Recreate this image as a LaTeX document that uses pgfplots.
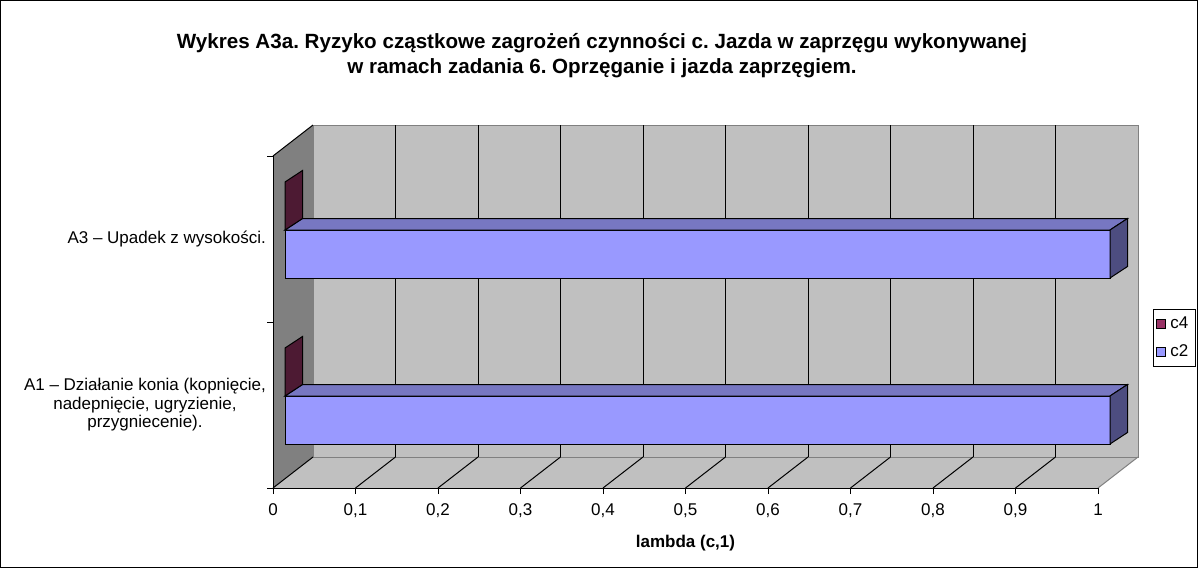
\documentclass[border=0pt]{standalone}
\usepackage{fontspec}
\setmainfont{Liberation Sans}
\usepackage{pgfplots}
\pgfplotsset{compat=1.18}
\definecolor{wall}{HTML}{C0C0C0}
\definecolor{side}{HTML}{808080}
\definecolor{ctwo}{HTML}{9999FF}
\definecolor{ctwotop}{HTML}{7777C2}
\definecolor{ctwoend}{HTML}{4D4D80}
\definecolor{cfour}{HTML}{993366}
\definecolor{cfourend}{HTML}{4D1A33}
\frenchspacing
\begin{document}
\begin{tikzpicture}
\useasboundingbox (0,0) rectangle (599pt,284pt);
\fill[white] (0,0) rectangle (599pt,284pt);
\draw[black, line width=0.5pt] (0.25pt,0.25pt) rectangle (598.75pt,283.75pt);
\node[align=center, font=\bfseries\fontsize{10.3}{12.5}\selectfont] at (301pt,256pt)
  {Wykres A3a. Ryzyko cząstkowe zagrożeń czynności c. Jazda w zaprzęgu wykonywanej\\
   w ramach zadania 6. Oprzęganie i jazda zaprzęgiem.};
% ---------- front plane: walls, floor, axes, labels, legend
\begin{axis}[
  at={(136.5pt,40pt)}, anchor=south west,
  scale only axis, width=412.5pt, height=166pt,
  xmin=0, xmax=1, ymin=0, ymax=2,
  clip=false, axis on top,
  axis x line*=bottom, axis y line*=left,
  axis line style={black, line width=0.5pt, -},
  tick align=outside, major tick length=3pt,
  tick style={black, line width=0.5pt},
  /pgf/number format/assume math mode=true,
  ticklabel style={font=\fontsize{8.5}{10}\selectfont},
  xtick={0,0.1,0.2,0.3,0.4,0.5,0.6,0.7,0.8,0.9,1},
  xticklabels={0,{0,1},{0,2},{0,3},{0,4},{0,5},{0,6},{0,7},{0,8},{0,9},1},
  xticklabel style={yshift=-1.5pt},
  ytick={0,1,2}, yticklabels={},
  extra y ticks={0.5,1.5},
  extra y tick labels={{A1 – Działanie konia (kopnięcie,\\nadepnięcie, ugryzienie,\\przygniecenie).},{A3 – Upadek z wysokości.}},
  extra y tick style={major tick length=0pt, yticklabel style={align=center, font=\fontsize{8.5}{9.25}\selectfont}},
  xlabel={\bfseries lambda (c,1)},
  xlabel style={at={(axis description cs:0.5,0)}, anchor=center, yshift=-27.5pt, font=\fontsize{8.5}{10}\selectfont},
  legend image code/.code={\draw[#1] (0pt,-2.25pt) rectangle (4.5pt,2.25pt);},
  legend style={at={(1.0925,0.4518)}, anchor=center, draw=black, fill=white,
    font=\fontsize{8.5}{10}\selectfont, inner xsep=1.5pt, inner ysep=1.5pt, row sep=2.5pt},
  legend cell align=left,
]
% side wall
\fill[side] (axis cs:0,0) -- (axis cs:0,2) -- ([xshift=20pt,yshift=15.5pt]axis cs:0,2) -- ([xshift=20pt,yshift=15.5pt]axis cs:0,0) -- cycle;
% floor
\fill[wall] (axis cs:0,0) -- (axis cs:1,0) -- ([xshift=20pt,yshift=15.5pt]axis cs:1,0) -- ([xshift=20pt,yshift=15.5pt]axis cs:0,0) -- cycle;
% back wall
\filldraw[fill=wall, draw=side, line width=0.5pt] ([xshift=20pt,yshift=15.5pt]axis cs:0,0) rectangle ([xshift=20pt,yshift=15.5pt]axis cs:1,2);
\draw[side, line width=0.5pt] (axis cs:1,0) -- ([xshift=20pt,yshift=15.5pt]axis cs:1,0);
\draw[black, line width=0.5pt] (axis cs:0,2) -- ([xshift=20pt,yshift=15.5pt]axis cs:0,2);
\pgfplotsinvokeforeach{0,0.1,0.2,0.3,0.4,0.5,0.6,0.7,0.8,0.9}{
  \draw[black, line width=0.5pt] (axis cs:#1,0) -- ([xshift=20pt,yshift=15.5pt]axis cs:#1,0);
}
\pgfplotsinvokeforeach{0.1,0.2,0.3,0.4,0.5,0.6,0.7,0.8,0.9}{
  \draw[black, line width=0.5pt] ([xshift=20pt,yshift=15.5pt]axis cs:#1,0) -- ([xshift=20pt,yshift=15.5pt]axis cs:#1,2);
}
\addlegendimage{fill=cfour, draw=black, line width=0.4pt}
\addlegendentry{c4}
\addlegendimage{fill=ctwo, draw=black, line width=0.4pt}
\addlegendentry{c2}
\end{axis}
% ---------- bar plane
\begin{axis}[
  at={(142.5pt,44.5pt)}, anchor=south west,
  scale only axis, width=412.5pt, height=166pt,
  xmin=0, xmax=1, ymin=0, ymax=2,
  hide axis, clip=false,
]
\addplot[xbar, bar width=24pt, bar shift=12pt, fill=cfour, draw=black, line width=0.5pt]
  coordinates {(0,0.5) (0,1.5)};
\addplot[xbar, bar width=24pt, bar shift=-12pt, fill=ctwo, draw=black, line width=0.5pt]
  coordinates {(1,0.5) (1,1.5)};
\pgfplotsinvokeforeach{0.5,1.5}{
  \filldraw[fill=ctwotop, draw=black, line width=0.5pt] (axis cs:0,#1) -- (axis cs:1,#1) -- ([xshift=8.75pt,yshift=5.75pt]axis cs:1,#1) -- ([xshift=8.75pt,yshift=5.75pt]axis cs:0,#1) -- cycle;
  \filldraw[fill=ctwoend, draw=black, line width=0.5pt] (axis cs:1,#1) -- ([xshift=8.75pt,yshift=5.75pt]axis cs:1,#1) -- ([xshift=8.75pt,yshift=-18.25pt]axis cs:1,#1) -- ([yshift=-24pt]axis cs:1,#1) -- cycle;
  \filldraw[fill=cfourend, draw=black, line width=0.5pt] (axis cs:0,#1) -- ([yshift=24pt]axis cs:0,#1) -- ([xshift=8.75pt,yshift=29.75pt]axis cs:0,#1) -- ([xshift=8.75pt,yshift=5.75pt]axis cs:0,#1) -- cycle;
}
\end{axis}
\end{tikzpicture}
\end{document}
